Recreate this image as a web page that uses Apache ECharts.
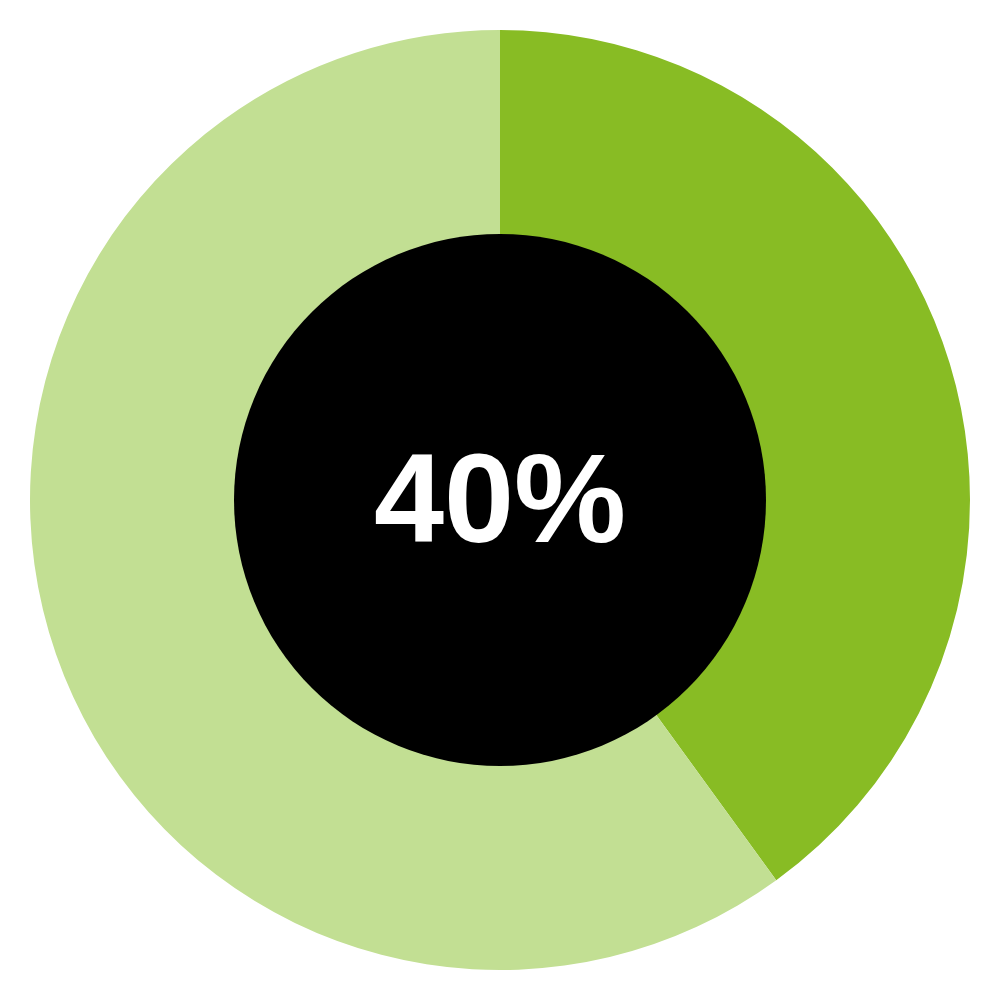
<!DOCTYPE html>
<html><head><meta charset="utf-8">
<script src="https://cdn.jsdelivr.net/npm/echarts@6/dist/echarts.min.js"></script>
<style>html,body{margin:0;padding:0;background:#fff}#c{width:1000px;height:1000px}</style>
</head><body><div id="c"></div>
<script>
var categories = ['Yes', 'No'];
var values = [40, 60];
var colors = ['#88BC24', '#C2DF93'];
var centerLabel = '40%';

var chart = echarts.init(document.getElementById('c'));
chart.setOption({
  animation: false,
  graphic: [{
    type: 'text',
    left: 'center',
    top: 444,
    z: 100,
    silent: true,
    style: {
      text: centerLabel,
      fill: '#fff',
      font: 'bold 126px "Liberation Sans"'
    }
  }],
  series: [
    {
      type: 'pie',
      center: ['50%', '50%'],
      radius: [264, 470],
      startAngle: 90,
      clockwise: true,
      silent: true,
      label: { show: false },
      labelLine: { show: false },
      data: categories.map(function (c, i) {
        return { name: c, value: values[i], itemStyle: { color: colors[i] } };
      })
    },
    {
      type: 'pie',
      center: ['50%', '50%'],
      radius: [0, 266],
      silent: true,
      label: { show: false },
      labelLine: { show: false },
      data: [{ name: 'center', value: 1, itemStyle: { color: '#000' } }]
    }
  ]
});
</script></body></html>
